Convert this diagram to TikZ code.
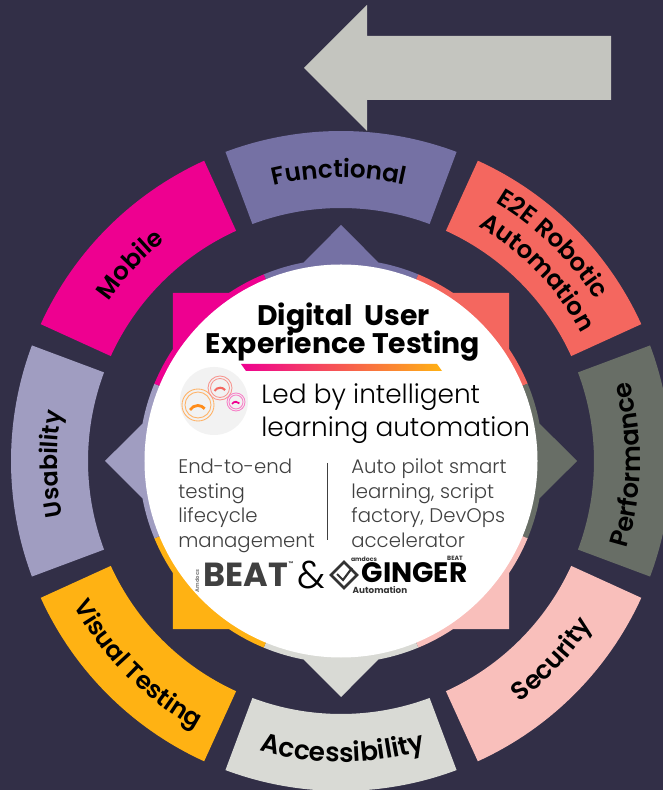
\documentclass[tikz,border=0pt]{standalone}
\usepackage{fontspec}
\setmainfont{Poppins}[BoldFont={Poppins SemiBold}]
\newfontfamily\lightfont{Poppins Light}
\newfontfamily\heavyfont{Poppins}[UprightFont={* Bold}]
\usetikzlibrary{decorations.text}

\definecolor{bgcol}{HTML}{322F47}
\definecolor{arrowcol}{HTML}{C4C5BF}
\definecolor{funccol}{HTML}{7571A4}
\definecolor{e2ecol}{HTML}{F4675F}
\definecolor{perfcol}{HTML}{686E66}
\definecolor{seccol}{HTML}{F9BFBB}
\definecolor{accesscol}{HTML}{D9DAD5}
\definecolor{visualcol}{HTML}{FFB213}
\definecolor{usecol}{HTML}{A09DC1}
\definecolor{mobilecol}{HTML}{EE0090}
\definecolor{bodycol}{HTML}{404040}

\tikzset{
	seglabel/.style 2 args={decorate,decoration={text along path,text align=center,text={|\fontsize{#1}{#1}\selectfont\bfseries|#2}}},
	bodytext/.style={anchor=base west,inner sep=0pt,text=bodycol,font=\lightfont\fontsize{11.2}{11.2}\selectfont},
	leadtext/.style={anchor=base west,inner sep=0pt,text=black,font=\lightfont\fontsize{15}{15}\selectfont},
	titletext/.style={anchor=base,inner sep=0pt,font=\heavyfont\fontsize{16.1}{16.1}\selectfont},
	logotext/.style={anchor=base,inner sep=0pt,font=\heavyfont\fontsize{#1}{#1}\selectfont},
}

\begin{document}
\begin{tikzpicture}
	\useasboundingbox (-6.82,-6.58) rectangle (6.44,9.22);
	\clip (-6.82,-6.58) rectangle (6.44,9.22);
	\fill[bgcol] (-6.82,-6.58) rectangle (6.44,9.22);
	
	%top arrow
	\fill[arrowcol] (-0.74,7.86)--(0.52,9.12)--(0.52,8.5)--(5.4,8.5)--(5.4,7.22)--(0.52,7.22)--(0.52,6.6)--cycle;
	
	%outer ring
	\fill[funccol] (110.5:6.6) arc[start angle=110.5,end angle=69.5,radius=6.6]--(69.5:5.06) arc[start angle=69.5,end angle=110.5,radius=5.06]--cycle;		%N
	\fill[e2ecol] (65.5:6.6) arc[start angle=65.5,end angle=24.5,radius=6.6]--(24.5:5.06) arc[start angle=24.5,end angle=65.5,radius=5.06]--cycle;			%NE
	\fill[perfcol] (20.5:6.6) arc[start angle=20.5,end angle=-20.5,radius=6.6]--(-20.5:5.06) arc[start angle=-20.5,end angle=20.5,radius=5.06]--cycle;		%E
	\fill[seccol] (-24.5:6.6) arc[start angle=-24.5,end angle=-65.5,radius=6.6]--(-65.5:5.06) arc[start angle=-65.5,end angle=-24.5,radius=5.06]--cycle;	%SE
	\fill[accesscol] (-69.5:6.6) arc[start angle=-69.5,end angle=-110.5,radius=6.6]--(-110.5:5.06) arc[start angle=-110.5,end angle=-69.5,radius=5.06]--cycle;	%S
	\fill[visualcol] (-114.5:6.6) arc[start angle=-114.5,end angle=-155.5,radius=6.6]--(-155.5:5.06) arc[start angle=-155.5,end angle=-114.5,radius=5.06]--cycle;	%SW
	\fill[usecol] (-159.5:6.6) arc[start angle=-159.5,end angle=-200.5,radius=6.6]--(-200.5:5.06) arc[start angle=-200.5,end angle=-159.5,radius=5.06]--cycle;	%W
	\fill[mobilecol] (155.5:6.6) arc[start angle=155.5,end angle=114.5,radius=6.6]--(114.5:5.06) arc[start angle=114.5,end angle=155.5,radius=5.06]--cycle;	%NW
	
	%ring captions
	\path[seglabel={14}{Functional}] (112.4:5.67) arc[start angle=112.4,end angle=68.4,radius=5.67];
	\path[seglabel={14}{Mobile}] (159:5.64) arc[start angle=159,end angle=115,radius=5.64];
	\path[seglabel={13.5}{Usability}] (202.6:5.68) arc[start angle=202.6,end angle=158.6,radius=5.68];
	\path[seglabel={14}{E2E Robotic}] (70.7:6.02) arc[start angle=70.7,end angle=20.7,radius=6.02];
	\path[seglabel={14}{Automation}] (68.8:5.44) arc[start angle=68.8,end angle=18.8,radius=5.44];
	\path[seglabel={14.6}{Performance}] (-25.8:5.98) arc[start angle=-25.8,end angle=24.2,radius=5.98];
	\path[seglabel={14.5}{Security}] (-68.3:6) arc[start angle=-68.3,end angle=-18.3,radius=6];
	\path[seglabel={15}{Accessibility}] (-114.7:6.02) arc[start angle=-114.7,end angle=-64.7,radius=6.02];
	\path[seglabel={14}{Visual Testing}] (-160:6.08) arc[start angle=-160,end angle=-110,radius=6.08];
	
	%star behind the disc
	\fill[funccol] (0,0)--(112.5:4.04) arc[start angle=112.5,end angle=100.7,radius=4.04]--(0,4.72)--(79.3:4.04) arc[start angle=79.3,end angle=67.5,radius=4.04]--cycle;	%N
	\fill[e2ecol] (0,0)--(67.5:4.04) arc[start angle=67.5,end angle=56.3,radius=4.04]--(3.36,3.36)--(33.7:4.04) arc[start angle=33.7,end angle=22.5,radius=4.04]--cycle;	%NE
	\fill[perfcol] (0,0)--(22.5:4.04) arc[start angle=22.5,end angle=10.7,radius=4.04]--(4.72,0)--(-10.7:4.04) arc[start angle=-10.7,end angle=-22.5,radius=4.04]--cycle;	%E
	\fill[seccol] (0,0)--(-22.5:4.04) arc[start angle=-22.5,end angle=-33.7,radius=4.04]--(3.36,-3.36)--(-56.3:4.04) arc[start angle=-56.3,end angle=-67.5,radius=4.04]--cycle;	%SE
	\fill[accesscol] (0,0)--(-67.5:4.04) arc[start angle=-67.5,end angle=-79.3,radius=4.04]--(0,-4.72)--(-100.7:4.04) arc[start angle=-100.7,end angle=-112.5,radius=4.04]--cycle;	%S
	\fill[visualcol] (0,0)--(-112.5:4.04) arc[start angle=-112.5,end angle=-123.7,radius=4.04]--(-3.36,-3.36)--(-146.3:4.04) arc[start angle=-146.3,end angle=-157.5,radius=4.04]--cycle;	%SW
	\fill[usecol] (0,0)--(-157.5:4.04) arc[start angle=-157.5,end angle=-169.3,radius=4.04]--(-4.72,0)--(-190.7:4.04) arc[start angle=-190.7,end angle=-202.5,radius=4.04]--cycle;	%W
	\fill[mobilecol] (0,0)--(157.5:4.04) arc[start angle=157.5,end angle=146.3,radius=4.04]--(-3.36,3.36)--(123.7:4.04) arc[start angle=123.7,end angle=112.5,radius=4.04]--cycle;	%NW
	
	%white disc
	\fill[white] (0,0) circle (3.93);
	
	%title
	\node[titletext] (titleA) at (0.05,2.7) {Digital\ \ User};
	\node[titletext] (titleB) at (0.04,2.14) {Experience Testing};
	\shade[left color=mobilecol,right color=visualcol] (-2,1.94)--(1.92,1.94)--(2.02,1.8)--(-1.9,1.8)--cycle;
	
	%gauge badge
	\fill[black!5] (-2.54,1.2) circle (0.68);
	\draw[orange!60,line width=0.5pt] (-2.86,1.12) circle (0.32);
	\draw[orange!60,line width=0.5pt] (-2.86,1.12) circle (0.26);
	\draw[orange!90,line width=1.6pt] (-3.02,1.02) arc[start angle=150,end angle=40,radius=0.18];
	\draw[e2ecol!70,line width=0.5pt] (-2.42,1.46) circle (0.24);
	\draw[e2ecol!70,line width=0.5pt] (-2.42,1.46) circle (0.19);
	\draw[e2ecol,line width=1.2pt] (-2.53,1.4) arc[start angle=150,end angle=40,radius=0.13];
	\draw[mobilecol!50,line width=0.5pt] (-2.1,1.18) circle (0.18);
	\draw[mobilecol!50,line width=0.5pt] (-2.1,1.18) circle (0.14);
	\draw[mobilecol,line width=1pt] (-2.18,1.14) arc[start angle=150,end angle=40,radius=0.09];
	
	%lead text
	\node[leadtext] (leadA) at (-1.6,1.14) {Led by intelligent};
	\node[leadtext] (leadB) at (-1.6,0.48) {learning automation};
	
	%left column
	\node[bodytext] (leftA) at (-3.26,-0.26) {End-to-end};
	\node[bodytext] (leftB) at (-3.26,-0.76) {testing};
	\node[bodytext] (leftC) at (-3.26,-1.24) {lifecycle};
	\node[bodytext] (leftD) at (-3.26,-1.74) {management};
	
	%right column
	\node[bodytext] (rightA) at (0.2,-0.26) {Auto pilot smart};
	\node[bodytext] (rightB) at (0.2,-0.76) {learning, script};
	\node[bodytext] (rightC) at (0.2,-1.24) {factory, DevOps};
	\node[bodytext] (rightD) at (0.2,-1.74) {accelerator};
	
	%divider
	\coordinate (divTop) at (-0.27,-0.04);
	\coordinate (divBot) at (-0.27,-1.58);
	\draw[bodycol,line width=0.5pt] (divTop)--(divBot);
	
	%logos
	\node[logotext=19,text=bodycol,xscale=1.0,transform shape] (beatLogo) at (-1.9,-2.52) {BEAT};
	\node[logotext=3,text=gray,rotate=90,transform shape] (beatMaker) at (-2.84,-2.4) {Amdocs};
	\node[logotext=3,text=bodycol] (beatMark) at (-1,-2.1) {™};
	\node[anchor=center,inner sep=0pt,font=\lightfont\fontsize{22}{22}\selectfont] (ampersand) at (-0.6,-2.28) {\&};
	\node[logotext=16,text=black] (gingerLogo) at (1.47,-2.44) {GINGER};
	\node[logotext=3.5,text=black!80] (gingerMaker) at (0.46,-2.02) {amdocs};
	\node[logotext=3.5,text=black!80] (gingerBeat) at (2.28,-2) {BEAT};
	\node[logotext=5,text=black!80] (gingerSub) at (0.78,-2.65) {Automation};
	\draw[black!80,line width=1.6pt,line join=miter] (-0.2,-2.28)--(0.06,-2.02)--(0.32,-2.28)--(0.06,-2.54)--cycle;
	\draw[black!80,line width=1.2pt] (-0.08,-2.26)--(0.04,-2.38)--(0.22,-2.14);
	
	\end{tikzpicture}
\end{document}
